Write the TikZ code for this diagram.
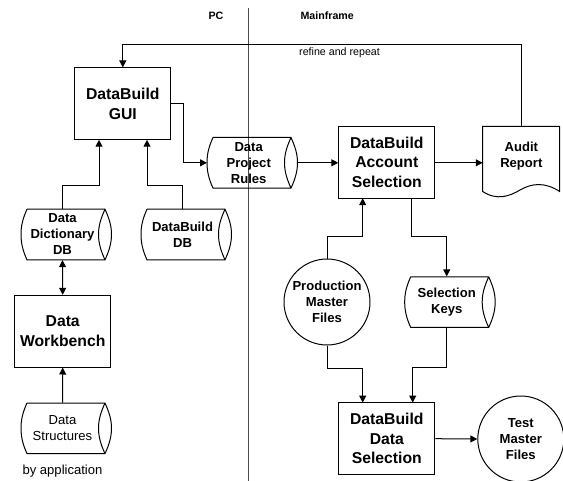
\documentclass[tikz,border=0pt]{standalone}
\usepackage{fontspec}
\setmainfont{Liberation Sans}
\usetikzlibrary{arrows.meta}
\tikzset{
  px/.style={x=0.75pt,y=-0.75pt,line width=0.75pt},
  arr/.style={-{Triangle[length=5.2pt,width=5.2pt]}},
  dblarr/.style={{Triangle[length=5.2pt,width=5.2pt]}-{Triangle[length=5.2pt,width=5.2pt]}},
  big/.style={font=\fontsize{11.8}{14.6}\selectfont\bfseries,align=center,inner sep=0pt},
  mid/.style={font=\fontsize{9.8}{12}\selectfont\bfseries,align=center,inner sep=0pt},
  plain/.style={font=\fontsize{9.8}{12}\selectfont,align=center,inner sep=0pt},
  small/.style={font=\fontsize{8}{10}\selectfont,inner sep=0pt},
  smallb/.style={font=\fontsize{8}{10}\selectfont\bfseries,inner sep=0pt},
  procbox/.style={draw,big,minimum width=72pt,minimum height=53.8pt},
  filecirc/.style={draw,circle,mid,minimum size=64.5pt},
  cylnode/.style={minimum width=62.5pt,minimum height=37.8pt},
}
\newcommand{\cylshape}[3]{%
  \draw (#1+6,#2) -- (#1+84,#2)
    .. controls (#1+88.5,#2+10) and (#1+90.5,#2+17) .. (#1+90.5,#2+25.3)
    .. controls (#1+90.5,#2+33) and (#1+88.5,#2+41) .. (#1+84,#2+50.6)
    -- (#1+6,#2+50.6)
    .. controls (#1+1.5,#2+41) and (#1,#2+33) .. (#1,#2+25.3)
    .. controls (#1,#2+17) and (#1+1.5,#2+10) .. (#1+6,#2)
    (#1+84,#2) .. controls (#1+79.5,#2+10) and (#1+77.5,#2+17) .. (#1+77.5,#2+25.3)
    .. controls (#1+77.5,#2+33) and (#1+79.5,#2+41) .. (#1+84,#2+50.6);
  \coordinate (#3-e) at (#1+90.5,#2+25.3);
  \coordinate (#3-w) at (#1,#2+25.3);
}
\begin{document}
\begin{tikzpicture}[px]
\useasboundingbox (0,0) rectangle (563,481);
% divider
\coordinate (divtop) at (248.5,8);
\coordinate (divbot) at (248.5,481);
\draw[black!70] (divtop) -- (divbot);
% cylinders
\cylshape{207}{137.5}{rules}
\cylshape{21}{209.2}{dict}
\cylshape{141}{209.2}{dbase}
\cylshape{21}{403}{struct}
\cylshape{404.7}{276.8}{keys}
\node[cylnode,mid] (rules) at (248.7,162.8) {Data\\Project\\Rules};
\node[cylnode,mid] (dict) at (62.5,234.5) {Data\\Dictionary\\DB};
\node[cylnode,mid] (dbase) at (182.5,234.5) {DataBuild\\DB};
\node[cylnode,plain] (struct) at (62.5,428.3) {Data\\Structures};
\node[cylnode,mid] (keys) at (446.7,302.1) {Selection\\Keys};
% process boxes
\node[procbox] (gui) at (122.8,103.8) {DataBuild\\GUI};
\node[procbox] (acct) at (386.8,162.2) {DataBuild\\Account\\Selection};
\node[procbox] (bench) at (62.7,331.2) {Data\\Workbench};
\node[procbox] (dsel) at (386.8,438.7) {DataBuild\\Data\\Selection};
% circles
\node[filecirc] (prod) at (327,302) {Production\\Master\\Files};
\node[filecirc] (test) at (520.8,439) {Test\\Master\\Files};
% audit report
\draw (482.7,126.5) -- (559.7,126.5) -- (559.7,191.5)
  .. controls (545,182) and (532,183) .. (520,190)
  .. controls (510,196) and (497,201) .. (482.7,191.5) -- cycle;
\node[mid,minimum width=57.8pt,minimum height=43.9pt] (audit) at (521.3,155.8) {Audit\\Report};
% labels
\node[smallb] (pc) at (216,16) {PC};
\node[smallb,anchor=west] (mf) at (300,16) {Mainframe};
\node[small,anchor=west] (rr) at (298.7,52.5) {refine and repeat};
\node[plain] (byapp) at (62.5,470.7) {by application};
% connector ports
\coordinate (gport1) at (99,139.8);
\coordinate (gport2) at (147,139.8);
\coordinate (j1) at (62.5,185);
\coordinate (j2) at (182.5,185);
\coordinate (gright) at (170.8,104);
\coordinate (j3) at (183,104);
\coordinate (j4) at (183,162.8);
\coordinate (ltop) at (521.3,44.5);
\coordinate (rtop) at (122.8,44.5);
\coordinate (aport1) at (362.7,198.2);
\coordinate (aport2) at (411,198.2);
\coordinate (j5) at (327,236);
\coordinate (j6) at (362.7,236);
\coordinate (j7) at (411,236);
\coordinate (j8) at (446.7,236);
\coordinate (dport1) at (362.7,402.6);
\coordinate (dport2) at (412.7,402.6);
\coordinate (j9) at (327,368.3);
\coordinate (j10) at (362.7,368.3);
\coordinate (j11) at (446.7,367);
\coordinate (j12) at (412.7,367);
\coordinate (aud-in) at (482.7,162.8);
% connectors
\draw[arr] (audit.north) -- (ltop) -- (rtop) -- (gui.north);
\draw[arr] (gright) -- (j3) -- (j4) -- (rules-w);
\draw[arr] (rules-e) -- (acct.west |- rules-e);
\draw[arr] (acct.east |- rules-e) -- (aud-in);
\draw[arr] (dict.north) -- (j1) -- (j1 -| gport1) -- (gport1);
\draw[arr] (dbase.north) -- (j2) -- (j2 -| gport2) -- (gport2);
\draw[dblarr] (dict.south) -- (bench.north);
\draw[arr] (struct.north) -- (bench.south);
\draw[arr] (prod.north) -- (j5) -- (j6) -- (aport1);
\draw[arr] (aport2) -- (j7) -- (j8) -- (keys.north);
\draw[arr] (prod.south) -- (j9) -- (j10) -- (dport1);
\draw[arr] (keys.south) -- (j11) -- (j12) -- (dport2);
\draw[arr] (dsel.east) -- (test.west);
\end{tikzpicture}
\end{document}
